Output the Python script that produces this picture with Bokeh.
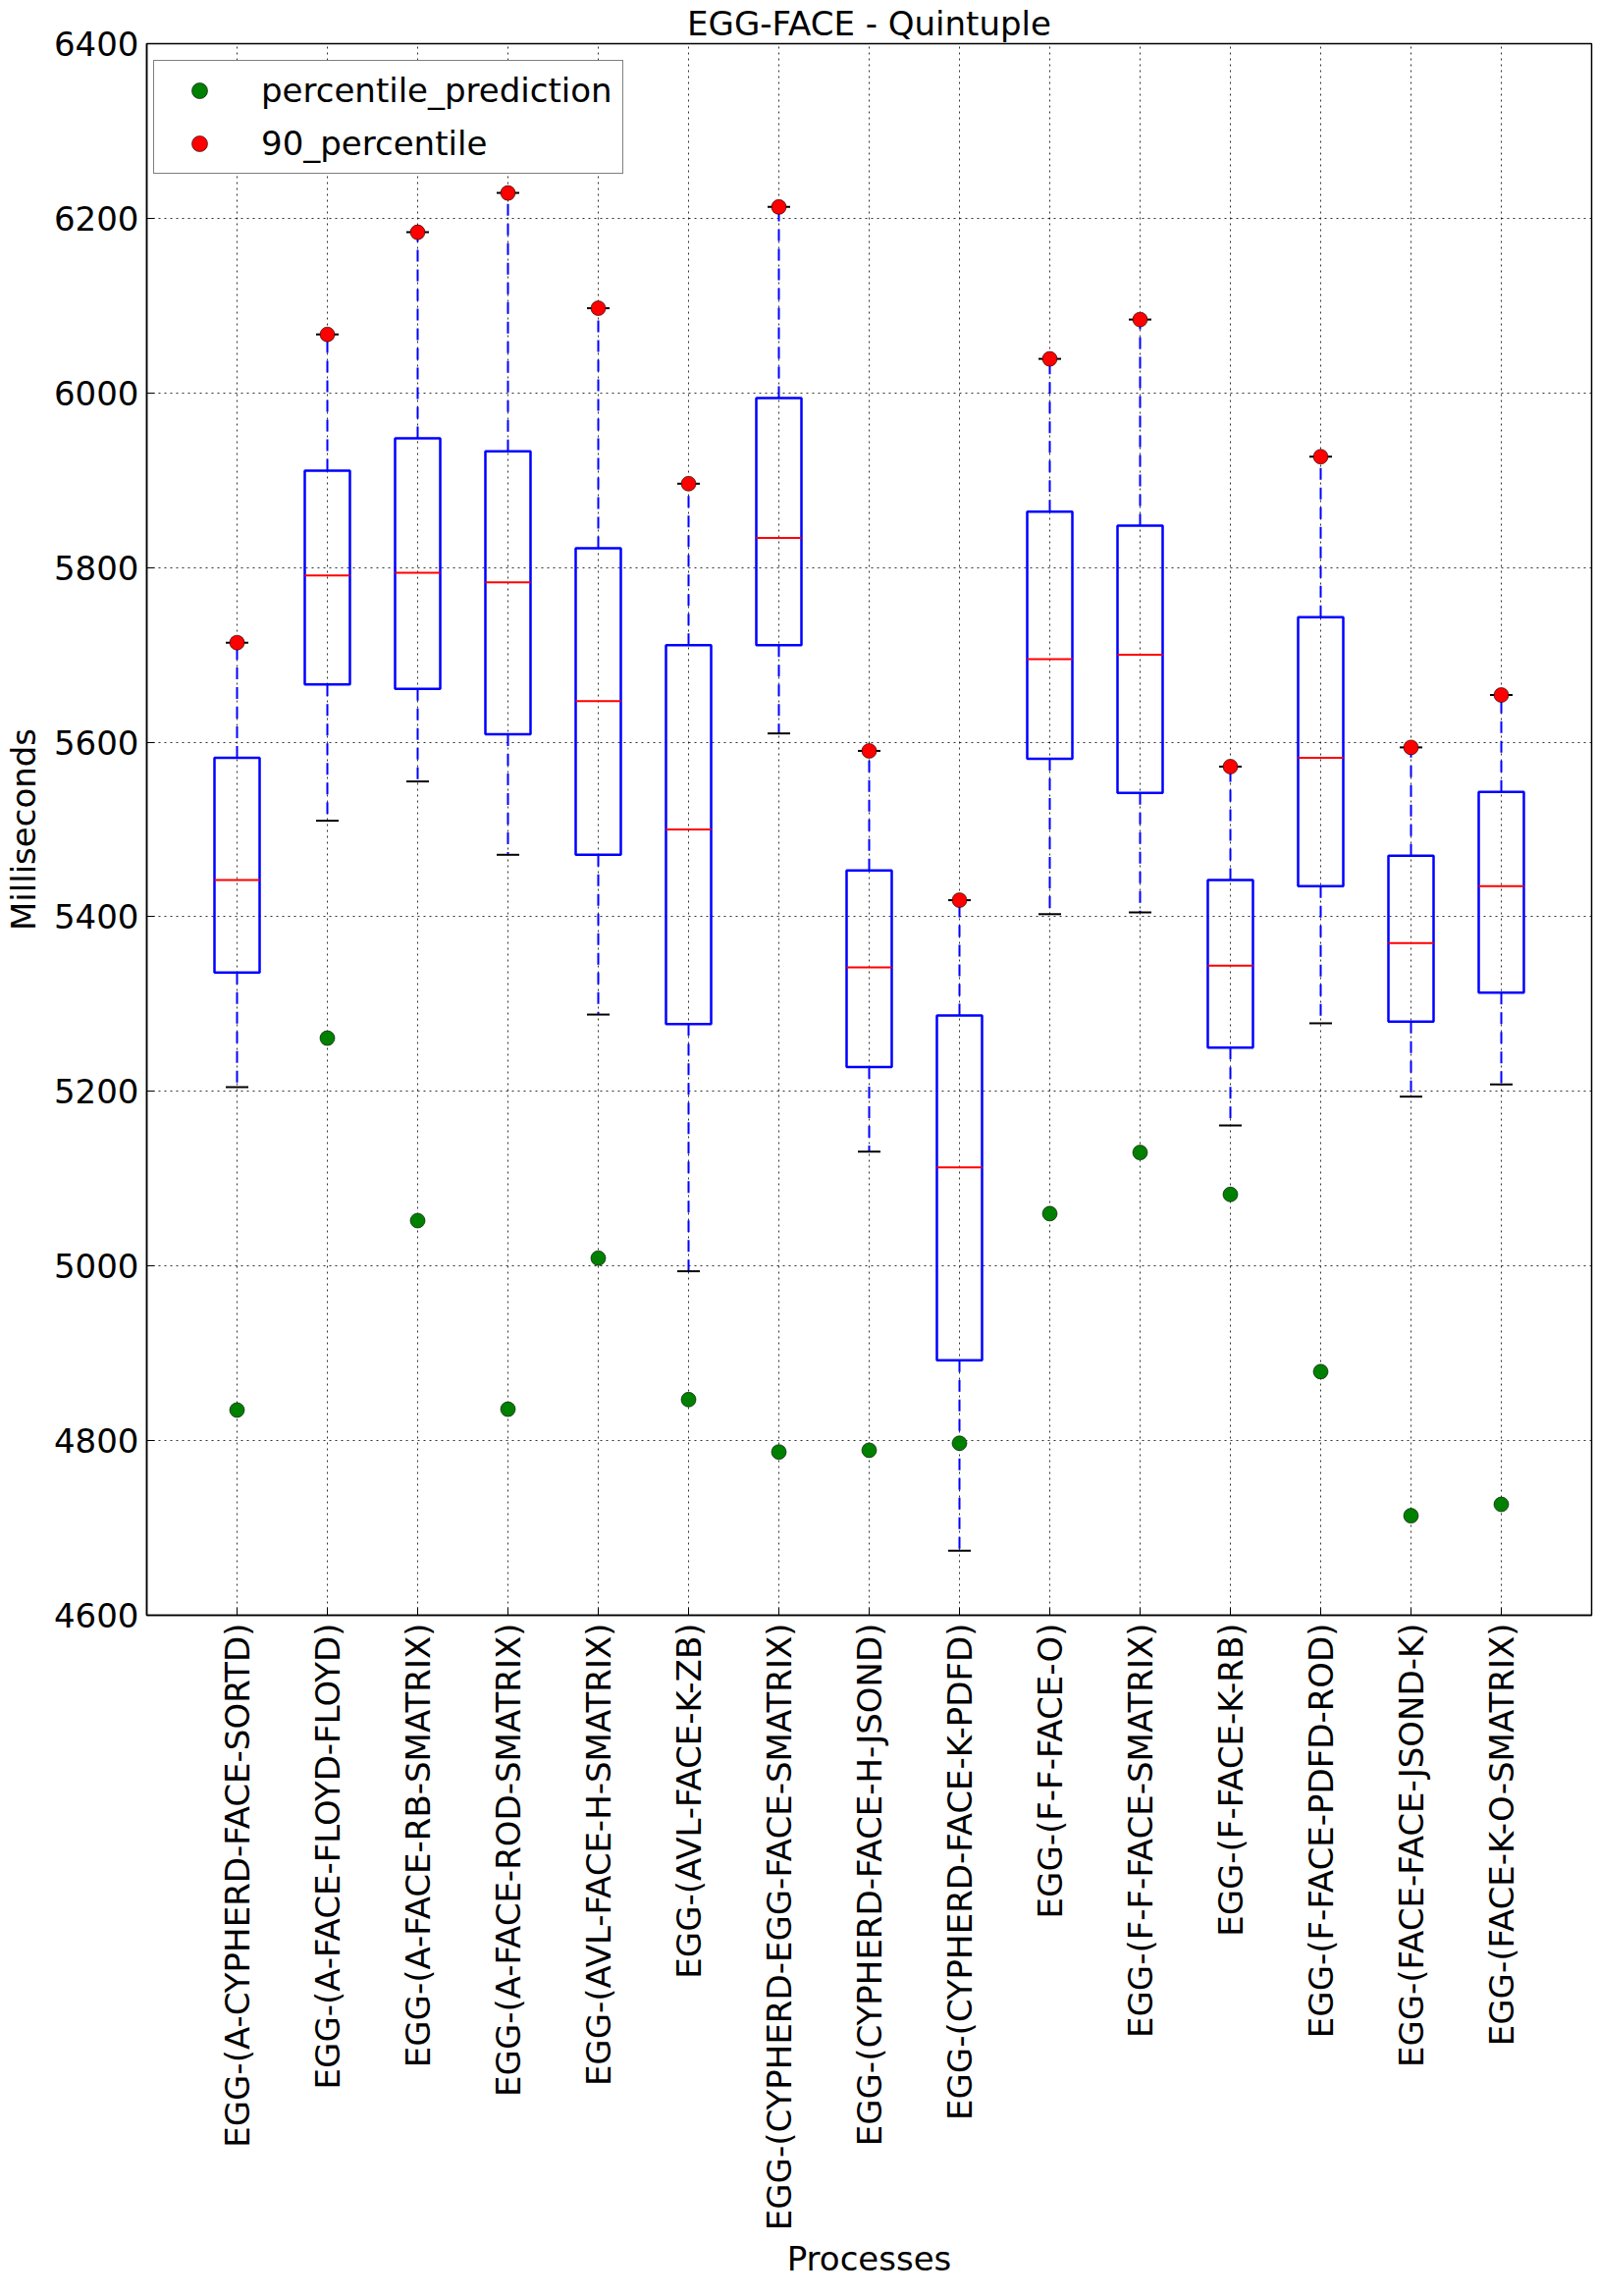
import math
from bokeh.plotting import figure
from bokeh.models import ColumnDataSource, FactorRange, FixedTicker, Legend, LegendItem
from bokeh.transform import dodge
from bokeh.embed import file_html
from bokeh.resources import INLINE

processes = [
    "EGG-(A-CYPHERD-FACE-SORTD)", "EGG-(A-FACE-FLOYD-FLOYD)", "EGG-(A-FACE-RB-SMATRIX)",
    "EGG-(A-FACE-ROD-SMATRIX)", "EGG-(AVL-FACE-H-SMATRIX)", "EGG-(AVL-FACE-K-ZB)",
    "EGG-(CYPHERD-EGG-FACE-SMATRIX)", "EGG-(CYPHERD-FACE-H-JSOND)", "EGG-(CYPHERD-FACE-K-PDFD)",
    "EGG-(F-F-FACE-O)", "EGG-(F-F-FACE-SMATRIX)", "EGG-(F-FACE-K-RB)",
    "EGG-(F-FACE-PDFD-ROD)", "EGG-(FACE-FACE-JSOND-K)", "EGG-(FACE-K-O-SMATRIX)",
]
percentile_90 = [5714, 6067, 6184, 6229, 6097, 5896, 6213, 5590, 5419, 6039, 6084, 5572, 5927, 5594, 5654]
q3 = [5582, 5911, 5948, 5933, 5822, 5711, 5994, 5453, 5287, 5864, 5848, 5442, 5743, 5470, 5543]
median = [5442, 5791, 5794, 5783, 5647, 5500, 5834, 5342, 5113, 5695, 5700, 5344, 5582, 5370, 5435]
q1 = [5336, 5666, 5661, 5609, 5471, 5277, 5711, 5228, 4892, 5581, 5542, 5250, 5435, 5280, 5313]
lower = [5205, 5510, 5555, 5471, 5288, 4994, 5610, 5131, 4674, 5403, 5405, 5161, 5278, 5194, 5208]
percentile_prediction = [4835, 5261, 5052, 4836, 5009, 4847, 4787, 4789, 4797, 5060, 5130, 5082, 4879, 4714, 4727]
y_ticks = [4600, 4800, 5000, 5200, 5400, 5600, 5800, 6000, 6200, 6400]

FONT = "DejaVu Sans"
FS = "34px"

src = ColumnDataSource(dict(proc=processes, upper=percentile_90, q3=q3, med=median,
                            q1=q1, lower=lower, pred=percentile_prediction))

p = figure(
    x_range=FactorRange(factors=processes, range_padding=0.5, range_padding_units="absolute"),
    y_range=(4600, 6400),
    frame_width=1472, frame_height=1601,
    min_border_left=145, min_border_right=10, min_border_top=43, min_border_bottom=695,
    output_backend="svg", toolbar_location=None,
    title="EGG-FACE - Quintuple",
)
p.title.text_font = FONT
p.title.text_font_size = FS
p.title.text_font_style = "normal"
p.title.text_color = "black"
p.title.align = "center"
p.title.standoff = 2
p.title.offset = 0

p.background_fill_color = "white"
p.border_fill_color = "white"
p.outline_line_color = "black"
p.outline_line_width = 1.5

for ax in (p.xaxis[0], p.yaxis[0]):
    ax.axis_line_color = "black"
    ax.axis_line_width = 1.5
    ax.major_tick_in = 8
    ax.major_tick_out = 0
    ax.major_tick_line_color = "black"
    ax.minor_tick_in = 0
    ax.minor_tick_out = 0
    ax.major_label_text_font = FONT
    ax.major_label_text_font_size = FS
    ax.major_label_text_color = "black"
    ax.axis_label_text_font = FONT
    ax.axis_label_text_font_size = FS
    ax.axis_label_text_font_style = "normal"
    ax.axis_label_text_color = "black"
    ax.major_label_standoff = 8

p.yaxis.ticker = FixedTicker(ticks=y_ticks)
p.yaxis.axis_label = "Milliseconds"
p.yaxis.axis_label_standoff = 8
p.xaxis.axis_label = "Processes"
p.xaxis.axis_label_standoff = 6
p.xaxis.major_label_orientation = math.pi / 2

for g in (p.xgrid[0], p.ygrid[0]):
    g.grid_line_color = "black"
    g.grid_line_dash = "2 4"
    g.grid_line_width = 1
    g.grid_line_alpha = 0.8

left_x = dodge("proc", -0.25, range=p.x_range)
right_x = dodge("proc", 0.25, range=p.x_range)
capl = dodge("proc", -0.125, range=p.x_range)
capr = dodge("proc", 0.125, range=p.x_range)

# whiskers
p.segment(x0="proc", x1="proc", y0="q3", y1="upper", source=src,
          line_color="blue", line_width=2, line_dash="12 8")
p.segment(x0="proc", x1="proc", y0="q1", y1="lower", source=src,
          line_color="blue", line_width=2, line_dash="12 8")
# caps
p.segment(x0=capl, x1=capr, y0="upper", y1="upper", source=src, line_color="black", line_width=2)
p.segment(x0=capl, x1=capr, y0="lower", y1="lower", source=src, line_color="black", line_width=2)
# boxes
p.vbar(x="proc", width=0.5, top="q3", bottom="q1", source=src,
       fill_color=None, line_color="blue", line_width=2.5)
# medians
p.segment(x0=left_x, x1=right_x, y0="med", y1="med", source=src, line_color="red", line_width=2)

r_pred = p.scatter(x="proc", y="pred", source=src, size=15, marker="circle",
                   fill_color="#008000", line_color="black", line_width=0.6)
r_90 = p.scatter(x="proc", y="upper", source=src, size=15, marker="circle",
                 fill_color="#ff0000", line_color="black", line_width=0.6)

legend = Legend(
    items=[LegendItem(label="percentile_prediction", renderers=[r_pred]),
           LegendItem(label="90_percentile", renderers=[r_90])],
    location=(7, 1601 - 19 - 114),
    label_text_font=FONT, label_text_font_size=FS, label_text_color="black",
    glyph_width=72, glyph_height=40, label_height=40, label_standoff=27,
    spacing=14, padding=10, margin=0,
    border_line_color="black", border_line_width=1.5,
    background_fill_color="white", background_fill_alpha=1.0,
)
p.add_layout(legend)

open("out.html", "w").write(file_html(p, INLINE))
